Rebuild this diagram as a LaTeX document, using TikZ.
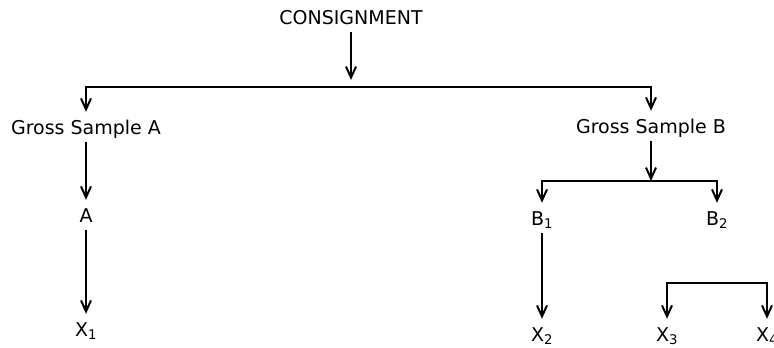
\documentclass[tikz,border=0pt]{standalone}
\usepackage{fontspec}
\setmainfont{DejaVu Sans}
\usetikzlibrary{arrows.meta}

\tikzset{
    lbl/.style={inner xsep=1pt, inner ysep=8pt, text height=14pt, text depth=0pt,
        anchor=base, font=\fontsize{19}{22}\selectfont},
    link/.style={line width=2.2pt, -{Straight Barb[length=11pt,width=10pt,line width=2pt]}},
}

\begin{document}
\begin{tikzpicture}[x=1pt,y=-1pt]
    \useasboundingbox (0,0) rectangle (774,348);
    \node[lbl] (consign) at (351,24) {CONSIGNMENT};
    \node[lbl] (grossA) at (86,134) {Gross Sample A};
    \node[lbl] (grossB) at (651,133) {Gross Sample B};
    \node[lbl] (A) at (86,222) {A};
    \node[lbl] (B1) at (542,225) {B\textsubscript{1}};
    \node[lbl] (B2) at (717,225) {B\textsubscript{2}};
    \node[lbl] (X1) at (86,336) {X\textsubscript{1}};
    \node[lbl] (X2) at (542,341) {X\textsubscript{2}};
    \node[lbl] (X3) at (667,341) {X\textsubscript{3}};
    \node[lbl] (X4) at (767,341) {X\textsubscript{4}};

    % split points
    \coordinate (above bar) at (351,80);
    \coordinate (bar) at (351,87);
    \coordinate (split B) at (651,181);
    \coordinate (split X) at (717,283);

    \draw[link] (consign) -- (above bar);
    \draw[link] (bar) -| (grossA);
    \draw[link] (bar) -| (grossB);
    \draw[link] (grossA) -- (A);
    \draw[link] (A) -- (X1);
    \draw[link] (grossB) -- (split B);
    \draw[link] (split B) -| (B1);
    \draw[link] (split B) -| (B2);
    \draw[link] (B1) -- (X2);
    \draw[link] (split X) -| (X3);
    \draw[link] (split X) -| (X4);
\end{tikzpicture}
\end{document}
